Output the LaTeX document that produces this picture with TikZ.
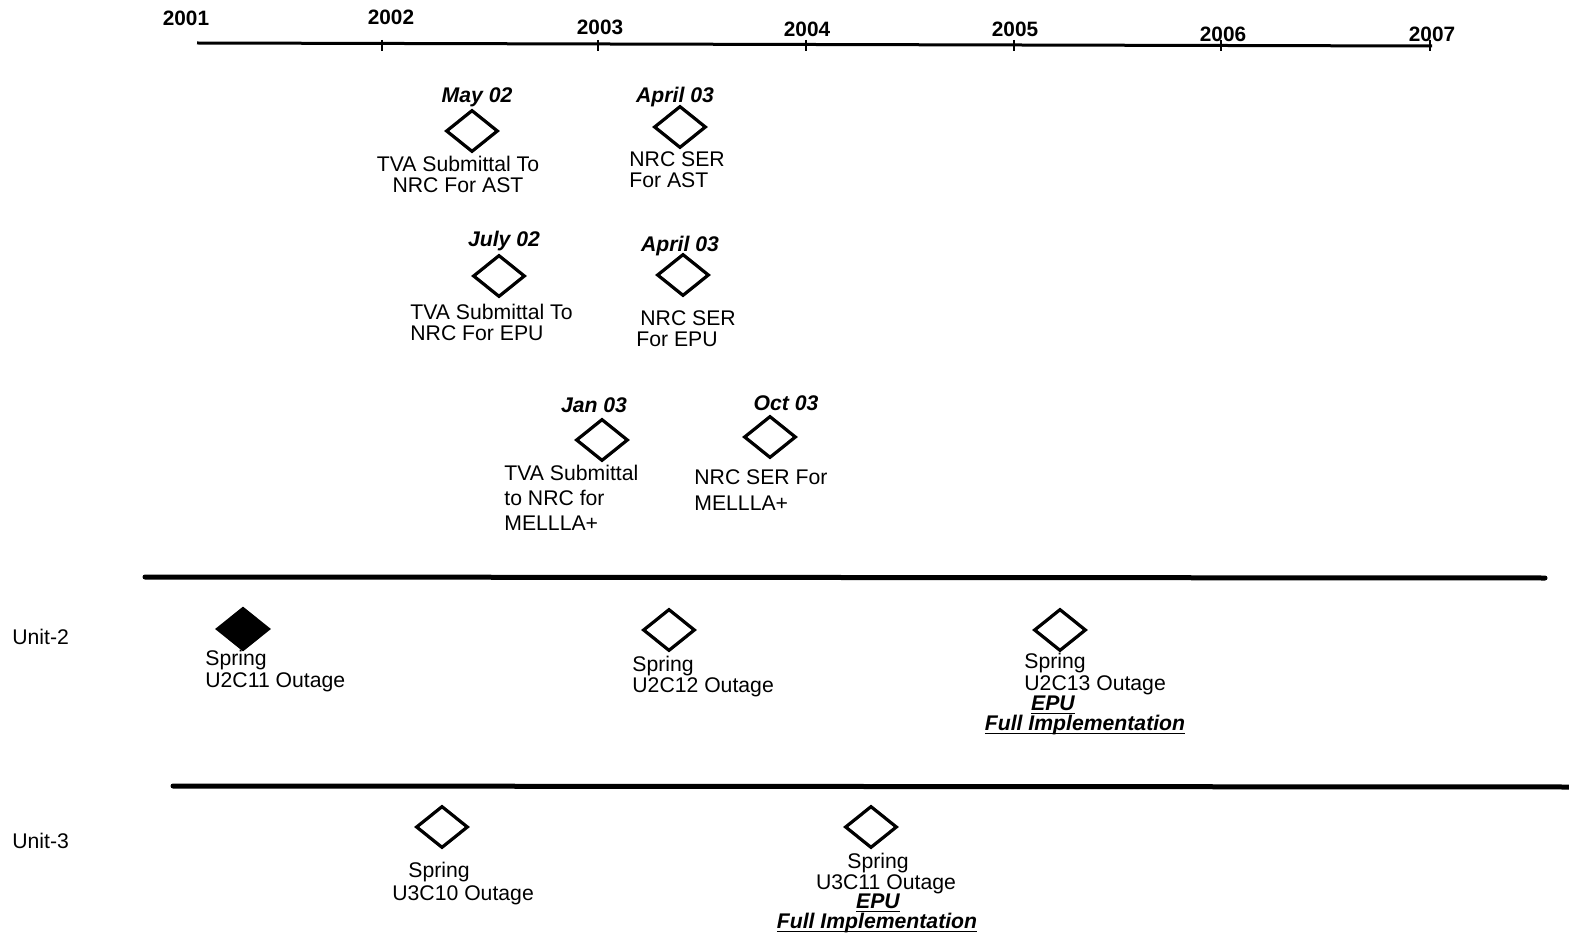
\documentclass[tikz,border=0pt]{standalone}
\usepackage{fontspec}
\setmainfont{Liberation Sans}
\usetikzlibrary{shapes.geometric,positioning}
\newcommand{\thickul}[1]{\setbox0\hbox{#1}\rlap{\rule[-2.2pt]{\wd0}{0.9pt}}\box0}

\begin{document}
\begin{tikzpicture}[x=0.5pt, y=-0.5pt,
  every node/.style = {inner sep=0pt, font=\fontsize{10.6}{10.5}\selectfont},
  mile/.style = {diamond, draw, line width=1.6pt,
    minimum width=26pt, minimum height=21pt},
  done/.style = {mile, fill=black},
  datelbl/.style = {anchor=base,
    font=\fontsize{10.6}{10.5}\selectfont\bfseries\itshape},
  yearlbl/.style = {anchor=base,
    font=\fontsize{10.4}{10.5}\selectfont\bfseries},
  descl/.style = {anchor=base west, align=left},
  descc/.style = {anchor=base, align=center},
  rule/.style = {line width=2.5pt, line cap=round}]
  \useasboundingbox (0,0) rectangle (1569,941);

  % time axis
  \coordinate (axL) at (197,43);
  \coordinate (axR) at (1432,46);
  \draw[line width=1.5pt] (axL) -- (axR);
  \node[yearlbl] (y2001) at (186,26) {2001};
  \foreach \x/\lx/\yr/\ly in {382/391/2002/25, 598/600/2003/35,
      806/807/2004/37, 1014/1015/2005/37, 1221/1223/2006/42,
      1430/1432/2007/42} {
    \draw[line width=1.2pt] (\x,40) -- (\x,51);
    \node[yearlbl] (y\yr) at (\lx,\ly) {\yr};
  }

  % submittals and SERs (multi-line texts sit on their last baseline)
  \node[mile] (mAST) at (472,131) {};
  \node[datelbl] (dAST) at (477,103) {May 02};
  \node[descc] (tAST) at (458,193) {TVA Submittal To\\NRC For AST};
  \node[mile] (mSERa) at (680,127) {};
  \node[datelbl] (dSERa) at (675,103) {April 03};
  \node[descl] (tSERa) at (629,188) {NRC SER\\For AST};

  \node[mile] (mEPU) at (499,276) {};
  \node[datelbl] (dEPU) at (504,247) {July 02};
  \node[descl] (tEPU) at (410,341) {TVA Submittal To\\NRC For EPU};
  \node[mile] (mSERb) at (683,275) {};
  \node[datelbl] (dSERb) at (680,252) {April 03};
  \node[descl] (tSERb) at (636,347) {\hspace*{2pt}NRC SER\\For EPU};

  \node[mile] (mMEL) at (602,440) {};
  \node[datelbl] (dMEL) at (594,412) {Jan 03};
  \node[descl, font=\fontsize{10.6}{12.5}\selectfont] (tMEL)
    at (504,530) {TVA Submittal\\to NRC for\\MELLLA+};
  \node[mile] (mSERc) at (770,437) {};
  \node[datelbl] (dSERc) at (786,410) {Oct 03};
  \node[descl, font=\fontsize{10.6}{13}\selectfont] (tSERc)
    at (694,510) {NRC SER For\\MELLLA+};

  % unit rows
  \draw[rule] (145,577) -- (1545,578);
  \draw[rule] (173,786) -- (1569,787);
  \node[anchor=base west] (unit2) at (12,644) {Unit-2};
  \node[anchor=base west] (unit3) at (12,848) {Unit-3};

  \node[done] (o211) at (243,629) {};
  \node[descl, font=\fontsize{10.6}{9.5}\selectfont] (t211)
    at (205,687) {Spring\\U2C11 Outage};
  \node[mile] (o212) at (669,630) {};
  \node[descl] (t212) at (632,692) {Spring\\U2C12 Outage};
  \node[mile] (o213) at (1060,630) {};
  \node[descl, font=\fontsize{10.6}{9}\selectfont] (t213)
    at (1024,690) {Spring\\U2C13 Outage};
  \node[datelbl] (epu2) at (1053,710) {\thickul{EPU}};
  \node[datelbl] (full2) at (1085,730) {\thickul{Full Implementation}};

  \node[mile] (o310) at (442,827) {};
  \node[descl, font=\fontsize{10.6}{11.5}\selectfont] (t310)
    at (392,900) {\hspace*{8pt}Spring\\U3C10 Outage};
  \node[mile] (o311) at (871,827) {};
  \node[descc] (t311) at (886,889) {\hspace*{-8pt}Spring\\U3C11 Outage};
  \node[datelbl] (epu3) at (878,908) {\thickul{EPU}};
  \node[datelbl] (full3) at (877,928) {\thickul{Full Implementation}};
\end{tikzpicture}
\end{document}
